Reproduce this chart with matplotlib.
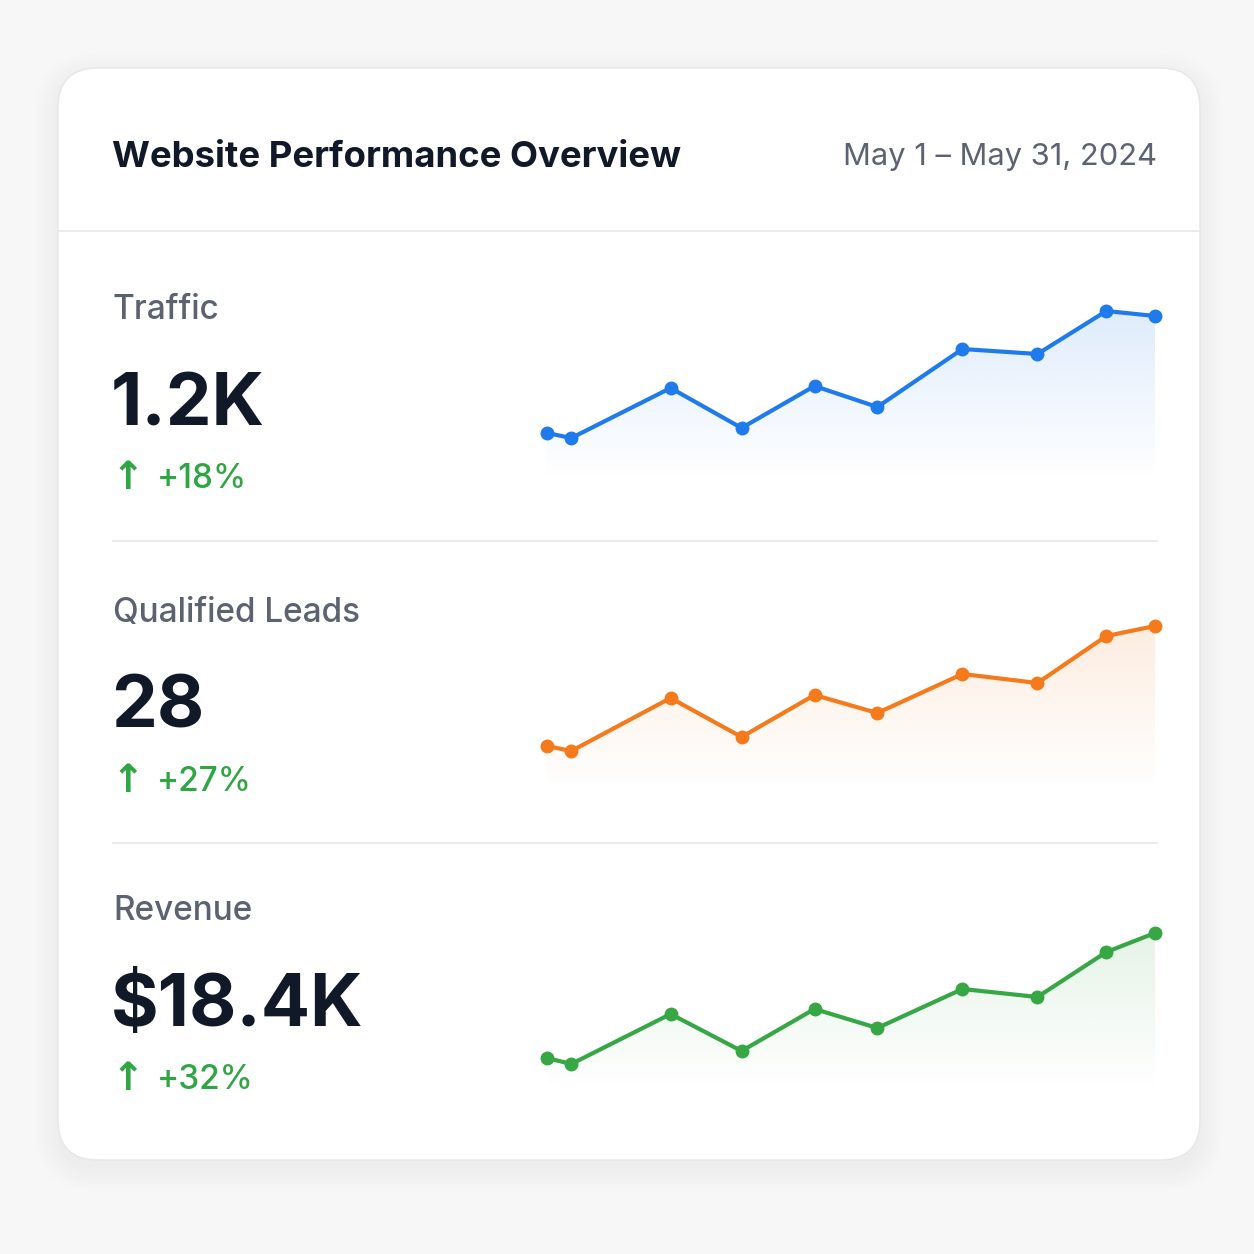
import matplotlib.pyplot as plt
import numpy as np
from matplotlib.patches import FancyBboxPatch
from matplotlib.colors import to_rgb

plt.rcParams['font.family'] = ['Inter', 'DejaVu Sans']

# --- Data ---
days = [1, 2.2, 7.1, 10.6, 14.2, 17.3, 21.5, 25.2, 28.6, 31]
traffic = [47, 42, 92, 52, 94, 73, 131, 126, 169, 164]
leads = [44, 39, 92, 53, 95, 77, 116, 107, 154, 164]
revenue = [32, 26, 76, 39, 81, 62, 101, 93, 138, 157]

metric_names = ['Traffic', 'Qualified Leads', 'Revenue']
metric_totals = ['1.2K', '28', '$18.4K']
metric_changes = ['+18%', '+27%', '+32%']
series = [traffic, leads, revenue]
line_colors = ['#1f7aec', '#f57a1c', '#37a745']

title = 'Website Performance Overview'
date_range = 'May 1 \u2013 May 31, 2024'

# --- Colours ---
BG = '#f7f7f8'
CARD = '#ffffff'
BORDER = '#e6e7eb'
DARK = '#111827'
GREY = '#5c6270'
UP_GREEN = '#2fa544'

W = 1254
fig = plt.figure(figsize=(12.54, 12.54), dpi=100, facecolor=BG)

# overlay axes in pixel coordinates (y downwards)
bg = fig.add_axes([0, 0, 1, 1])
bg.set_xlim(0, W)
bg.set_ylim(W, 0)
bg.axis('off')

# --- Card + soft shadow ---
cx0, cy0, cx1, cy1 = 58, 68, 1200, 1160
for k in range(10):
    grow = 1 + k * 2.5
    bg.add_patch(FancyBboxPatch((cx0 - grow, cy0 - grow + 8), cx1 - cx0 + 2 * grow,
                                cy1 - cy0 + 2 * grow,
                                boxstyle='round,pad=0,rounding_size=%d' % (40 + grow),
                                facecolor='black', edgecolor='none', alpha=0.0035, zorder=1))
bg.add_patch(FancyBboxPatch((cx0, cy0), cx1 - cx0, cy1 - cy0,
                            boxstyle='round,pad=0,rounding_size=40',
                            facecolor=CARD, edgecolor=BORDER, linewidth=1.0, zorder=2))

# --- Header ---
bg.text(112, 167, title, fontsize=26.3, fontweight='bold', color=DARK,
        va='baseline', ha='left', zorder=3)
bg.text(1157, 165, date_range, fontsize=22.2, color=GREY,
        va='baseline', ha='right', zorder=3)
bg.plot([cx0, cx1], [231, 231], color=BORDER, lw=1.2, zorder=3)

# --- Rows ---
row_offsets = [0, 303, 601]
spark_bottoms = [480, 790, 1090]
spark_h = 180
for i, off in enumerate(row_offsets):
    bg.text(113, 319 + off, metric_names[i], fontsize=24, fontweight='medium',
            color=GREY, va='baseline', ha='left', zorder=3)
    bg.text(111, 425 + off, metric_totals[i], fontsize=52.5, fontweight='bold',
            color=DARK, va='baseline', ha='left', zorder=3)
    bg.text(112, 489 + off, '\u2191', fontsize=28, fontweight='bold',
            color=UP_GREEN, va='baseline', ha='left', zorder=3,
            family=['DejaVu Sans'])
    bg.text(157, 488 + off, metric_changes[i], fontsize=24, fontweight='medium',
            color=UP_GREEN, va='baseline', ha='left', zorder=3)
    if i < 2:
        ysep = [541, 843][i]
        bg.plot([113, 1157], [ysep, ysep], color=BORDER, lw=1.2, zorder=3)

    # sparkline
    b = spark_bottoms[i]
    ax = fig.add_axes([547 / W, 1 - b / W, (1155 - 547) / W, spark_h / W])
    ax.set_xlim(days[0], days[-1])
    ax.set_ylim(0, spark_h)
    ax.axis('off')
    vals = series[i]
    col = line_colors[i]

    grad = np.zeros((256, 1, 4))
    grad[..., :3] = to_rgb(col)
    grad[:, 0, 3] = np.linspace(0.15, 0.0, 256)
    poly = ax.fill_between(days, vals, 0, facecolor='none', edgecolor='none')
    im = ax.imshow(grad, extent=[days[0], days[-1], 0, spark_h], aspect='auto',
                   origin='upper', zorder=1, interpolation='bilinear')
    im.set_clip_path(poly.get_paths()[0], transform=ax.transData)

    ax.plot(days, vals, color=col, lw=3.0, marker='o', markersize=9,
            solid_joinstyle='round', clip_on=False, zorder=3)

fig.savefig('out.png', dpi=100, facecolor=BG)
